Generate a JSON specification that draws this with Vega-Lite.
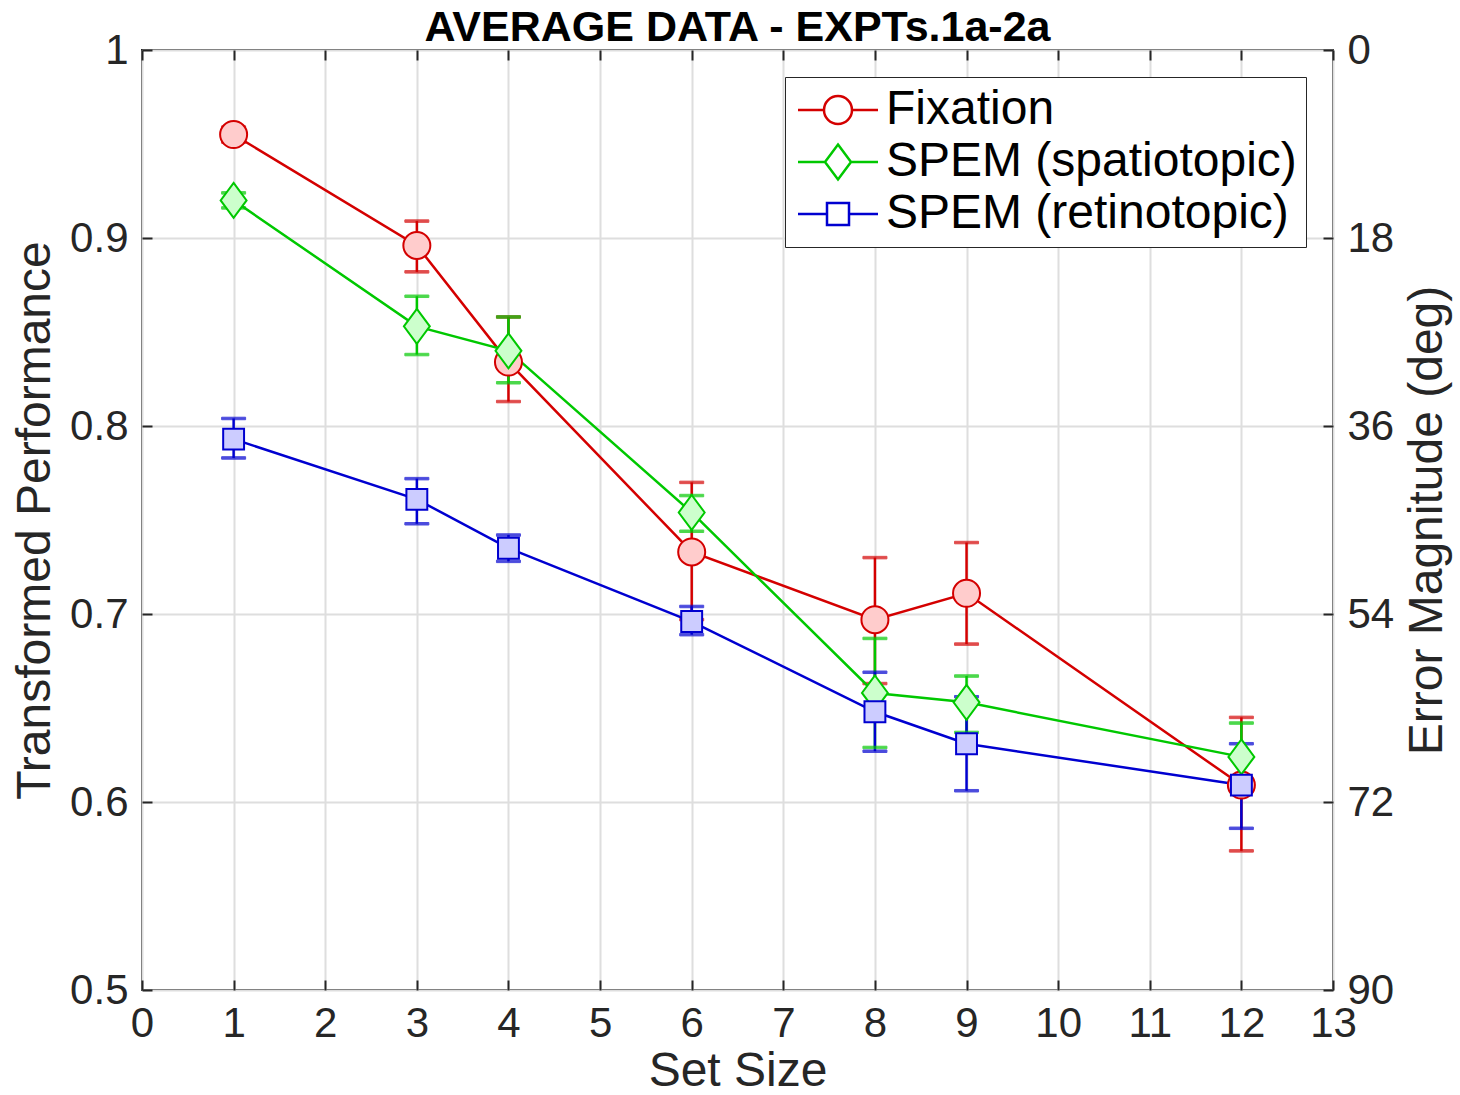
{
  "$schema": "https://vega.github.io/schema/vega-lite/v6.json",
  "width": 1191,
  "height": 940,
  "autosize": "none",
  "padding": {"left": 142, "top": 50, "right": 127, "bottom": 105},
  "background": "white",
  "title": {"text": "AVERAGE DATA - EXPTs.1a-2a", "font": "Liberation Sans", "fontSize": 43, "fontWeight": "bold", "color": "black", "anchor": "middle", "offset": -21},
  "config": {
    "view": {"stroke": "#262626", "strokeWidth": 2},
    "axis": {"labelFont": "Liberation Sans", "titleFont": "Liberation Sans", "labelFontSize": 42, "titleFontSize": 48, "labelColor": "#262626", "titleColor": "#262626", "titleFontWeight": "normal", "domain": false, "tickColor": "#262626", "tickWidth": 2, "gridColor": "#dedede", "gridWidth": 2, "gridOpacity": 1, "labelFlush": false}
  },
  "datasets": {
    "pts": [
      {"set": 1, "series": "Fixation", "perf": 0.955, "lo": 0.951, "hi": 0.959},
      {"set": 3, "series": "Fixation", "perf": 0.896, "lo": 0.882, "hi": 0.909},
      {"set": 4, "series": "Fixation", "perf": 0.834, "lo": 0.813, "hi": 0.858},
      {"set": 6, "series": "Fixation", "perf": 0.733, "lo": 0.697, "hi": 0.770},
      {"set": 8, "series": "Fixation", "perf": 0.697, "lo": 0.663, "hi": 0.730},
      {"set": 9, "series": "Fixation", "perf": 0.711, "lo": 0.684, "hi": 0.738},
      {"set": 12, "series": "Fixation", "perf": 0.609, "lo": 0.574, "hi": 0.645},
      {"set": 1, "series": "SPEM (spatiotopic)", "perf": 0.920, "lo": 0.916, "hi": 0.924},
      {"set": 3, "series": "SPEM (spatiotopic)", "perf": 0.853, "lo": 0.838, "hi": 0.869},
      {"set": 4, "series": "SPEM (spatiotopic)", "perf": 0.840, "lo": 0.823, "hi": 0.858},
      {"set": 6, "series": "SPEM (spatiotopic)", "perf": 0.754, "lo": 0.744, "hi": 0.763},
      {"set": 8, "series": "SPEM (spatiotopic)", "perf": 0.658, "lo": 0.629, "hi": 0.687},
      {"set": 9, "series": "SPEM (spatiotopic)", "perf": 0.653, "lo": 0.637, "hi": 0.667},
      {"set": 12, "series": "SPEM (spatiotopic)", "perf": 0.624, "lo": 0.606, "hi": 0.642},
      {"set": 1, "series": "SPEM (retinotopic)", "perf": 0.793, "lo": 0.783, "hi": 0.804},
      {"set": 3, "series": "SPEM (retinotopic)", "perf": 0.761, "lo": 0.748, "hi": 0.772},
      {"set": 4, "series": "SPEM (retinotopic)", "perf": 0.735, "lo": 0.728, "hi": 0.742},
      {"set": 6, "series": "SPEM (retinotopic)", "perf": 0.696, "lo": 0.689, "hi": 0.704},
      {"set": 8, "series": "SPEM (retinotopic)", "perf": 0.648, "lo": 0.627, "hi": 0.669},
      {"set": 9, "series": "SPEM (retinotopic)", "perf": 0.631, "lo": 0.606, "hi": 0.656},
      {"set": 12, "series": "SPEM (retinotopic)", "perf": 0.609, "lo": 0.586, "hi": 0.631}
    ],
    "err": [{"deg": 0}, {"deg": 90}]
  },
  "layer": [
    {
      "data": {"name": "pts"},
      "encoding": {
        "x": {"field": "set", "type": "quantitative", "scale": {"domain": [0, 13], "nice": false, "zero": false},
              "axis": {"orient": "bottom", "values": [0,1,2,3,4,5,6,7,8,9,10,11,12,13], "title": "Set Size", "tickSize": -10, "labelPadding": 23, "titlePadding": 3, "grid": true}},
        "stroke": {"field": "series", "type": "nominal", "scale": {"domain": ["Fixation", "SPEM (spatiotopic)", "SPEM (retinotopic)"], "range": ["#d40000", "#00c800", "#0000d0"]}, "legend": null}
      },
      "layer": [
        {
          "mark": {"type": "rule", "strokeWidth": 2.5},
          "encoding": {
            "y": {"field": "lo", "type": "quantitative", "scale": {"domain": [0.5, 1], "nice": false, "zero": false},
                  "axis": {"orient": "left", "values": [0.5,0.6,0.7,0.8,0.9,1], "format": ".1~f", "title": "Transformed Performance", "tickSize": -10, "labelPadding": 24, "titlePadding": 10, "grid": true}},
            "y2": {"field": "hi"}
          }
        },
        {
          "mark": {"type": "tick", "orient": "horizontal", "size": 24, "thickness": 2.5},
          "encoding": {"y": {"field": "lo", "type": "quantitative"}, "color": {"field": "series", "type": "nominal", "scale": {"domain": ["Fixation", "SPEM (spatiotopic)", "SPEM (retinotopic)"], "range": ["#d40000", "#00c800", "#0000d0"]}, "legend": null}}
        },
        {
          "mark": {"type": "tick", "orient": "horizontal", "size": 24, "thickness": 2.5},
          "encoding": {"y": {"field": "hi", "type": "quantitative"}, "color": {"field": "series", "type": "nominal", "scale": {"domain": ["Fixation", "SPEM (spatiotopic)", "SPEM (retinotopic)"], "range": ["#d40000", "#00c800", "#0000d0"]}, "legend": null}}
        },
        {
          "mark": {"type": "line", "strokeWidth": 2.5},
          "encoding": {"y": {"field": "perf", "type": "quantitative"}, "detail": {"field": "series", "type": "nominal"}}
        },
        {
          "mark": {"type": "point", "filled": false, "strokeWidth": 2, "opacity": 1, "size": 1296},
          "encoding": {
            "y": {"field": "perf", "type": "quantitative"},
            "shape": {"field": "series", "type": "nominal", "scale": {"domain": ["Fixation", "SPEM (spatiotopic)", "SPEM (retinotopic)"], "range": [
              "M-0.75,0A0.75,0.75 0 1,0 0.75,0A0.75,0.75 0 1,0 -0.75,0Z",
              "M0,-0.97L0.72,0L0,0.97L-0.72,0Z",
              "M-0.58,-0.58H0.58V0.58H-0.58Z"]}, "legend": null},
            "fill": {"field": "series", "type": "nominal", "scale": {"domain": ["Fixation", "SPEM (spatiotopic)", "SPEM (retinotopic)"], "range": ["#ffcccc", "#ccffcc", "#ccccff"]}, "legend": null}
          }
        }
      ]
    },
    {
      "data": {"name": "pts"},
      "mark": {"type": "point", "opacity": 0, "strokeWidth": 2.5},
      "encoding": {
        "x": {"field": "set", "type": "quantitative", "axis": null},
        "y": {"field": "perf", "type": "quantitative", "scale": {"domain": [0.5, 1], "nice": false, "zero": false}, "axis": null},
        "shape": {"field": "series", "type": "nominal", "scale": {"domain": ["Fixation", "SPEM (spatiotopic)", "SPEM (retinotopic)"], "range": [
          "M-2,0H-0.7M0.7,0H2M-0.7,0A0.7,0.7 0 1,0 0.7,0A0.7,0.7 0 1,0 -0.7,0Z",
          "M-2,0H-0.65M0.65,0H2M0,-0.87L0.65,0L0,0.87L-0.65,0Z",
          "M-2,0H-0.55M0.55,0H2M-0.55,-0.55H0.55V0.55H-0.55Z"]}, "legend": {"title": null}},
        "fill": {"field": "series", "type": "nominal", "scale": {"domain": ["Fixation", "SPEM (spatiotopic)", "SPEM (retinotopic)"], "range": ["#ffcccc", "#ccffcc", "#ccccff"]}, "legend": {"title": null}},
        "stroke": {"field": "series", "type": "nominal", "scale": {"domain": ["Fixation", "SPEM (spatiotopic)", "SPEM (retinotopic)"], "range": ["#d40000", "#00c800", "#0000d0"]},
          "legend": {"title": null, "orient": "top-right", "offset": 27, "strokeColor": "#262626", "fillColor": "white", "padding": 9, "labelFont": "Liberation Sans", "labelFontSize": 48, "labelColor": "black", "labelLimit": 700, "symbolSize": 1600, "symbolStrokeWidth": 2.5, "symbolOpacity": 1, "symbolOffset": 20, "labelOffset": 24, "rowPadding": 4}}
      }
    },
    {
      "data": {"name": "err"},
      "mark": {"type": "point", "opacity": 0},
      "encoding": {
        "y": {"field": "deg", "type": "quantitative", "scale": {"domain": [0, 90], "reverse": true, "nice": false, "zero": false},
              "axis": {"orient": "right", "values": [0, 18, 36, 54, 72, 90], "title": "Error Magnitude (deg)", "titleAngle": 270, "tickSize": -10, "labelPadding": 24, "titlePadding": 58, "grid": false}}
      }
    },
    {
      "data": {"name": "pts"},
      "mark": {"type": "point", "opacity": 0},
      "encoding": {
        "x": {"field": "set", "type": "quantitative", "axis": {"orient": "top", "values": [0,1,2,3,4,5,6,7,8,9,10,11,12,13], "labels": false, "title": null, "tickSize": -10, "grid": false}}
      }
    }
  ],
  "resolve": {"scale": {"y": "independent", "shape": "independent", "fill": "independent", "stroke": "independent", "color": "independent"}, "axis": {"x": "independent", "y": "independent"}}
}
